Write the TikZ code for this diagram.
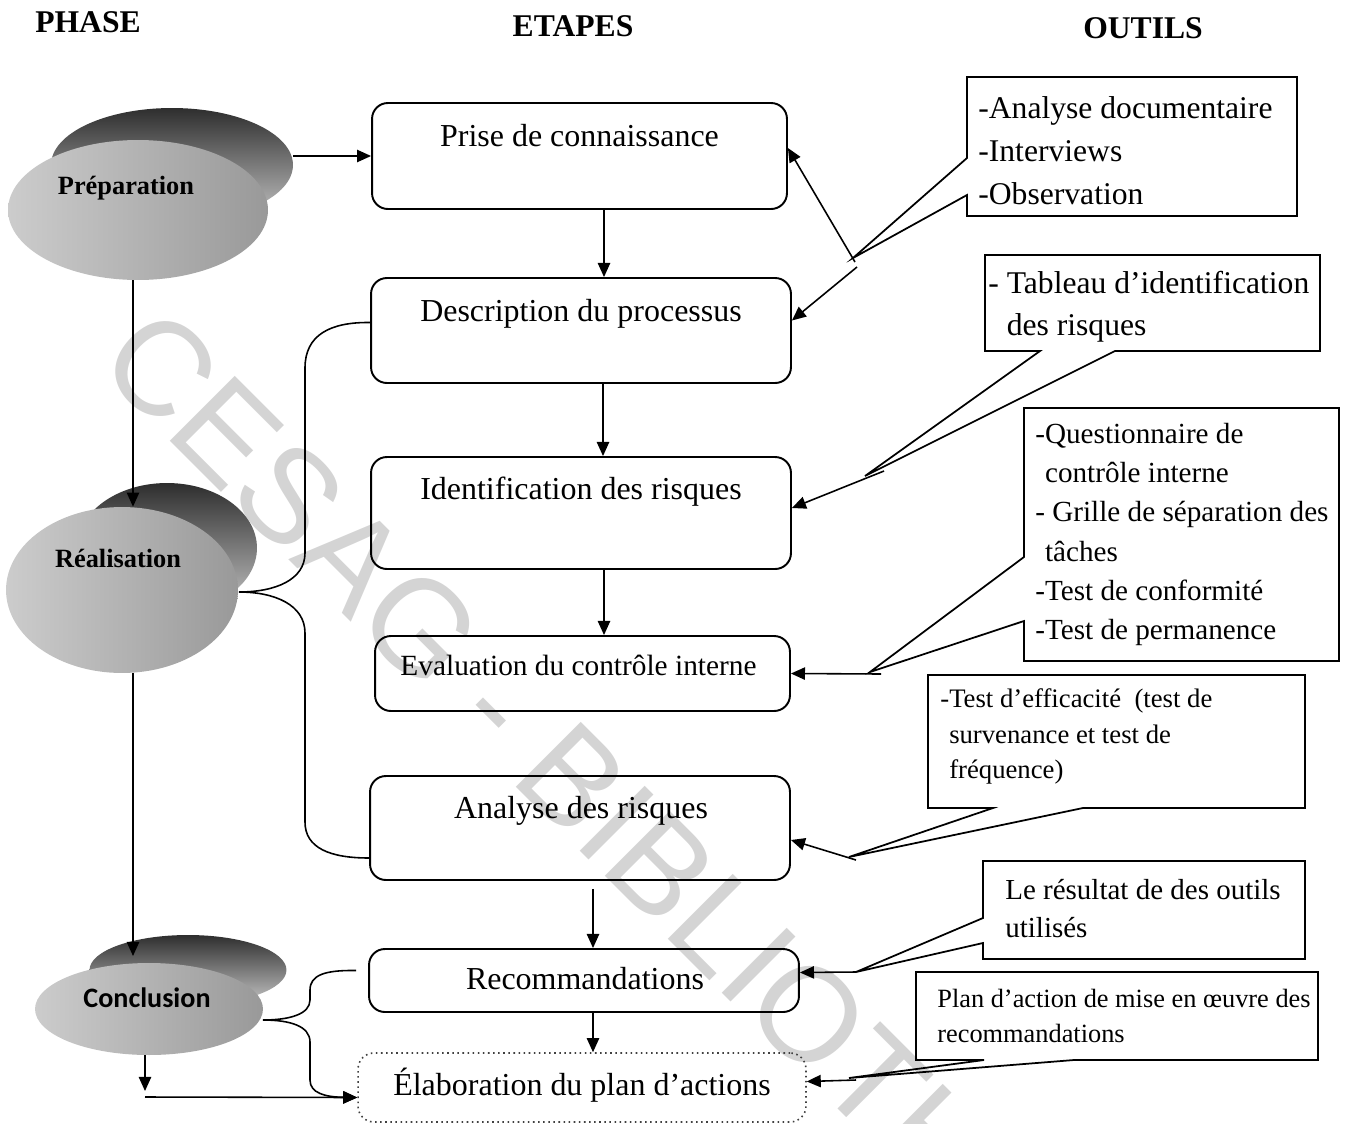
\documentclass[tikz,border=0pt]{standalone}
\usepackage{fontspec}
\setmainfont{Liberation Serif}
\newfontfamily\calib{Carlito}
\newfontfamily\wmfont{Liberation Sans}
\usetikzlibrary{arrows.meta,calc,shapes.geometric}
\begin{document}
\begin{tikzpicture}[x=0.02cm,y=-0.02cm,
  arr/.style={-{Triangle[length=8pt,width=7pt]}, line width=0.9pt},
  stepbox/.style={draw, line width=1.1pt, rounded corners=9pt, inner sep=0pt},
  steptxt/.style={inner sep=0pt, font=\fontsize{18.2}{22}\selectfont, text height=12.7pt, text depth=3.6pt},
  toolbox/.style={draw, line width=1pt, line join=miter},
  tooltxt/.style={inner sep=0pt, anchor=west, align=left},
  hdr/.style={inner sep=0pt, font=\bfseries\fontsize{18}{22}\selectfont},
  phtxt/.style={inner sep=0pt, font=\bfseries\fontsize{15}{18}\selectfont},
  darkell/.style={ellipse, inner sep=0pt, draw=none, top color=black!82, bottom color=black!22},
  lightell/.style={ellipse, inner sep=0pt, draw=none, left color=black!20, right color=black!40},
  brace/.style={line width=0.9pt},
  wm/.style={inner sep=0pt, anchor=west, rotate=-45, text=black!17, font=\wmfont\fontsize{76}{84}\selectfont}
]
\useasboundingbox (0,0) rectangle (1346,1123);
\clip (0,0) rectangle (1346,1123);

% watermark
\node[wm] (wmark) at (118,341) {CESAG - BIBLIOTHEQUE};

% headers
\node[hdr] (hphase) at (88,22) {PHASE};
\node[hdr] (hetapes) at (573,26) {ETAPES};
\node[hdr] (houtils) at (1143,28) {OUTILS};

% phase ellipses
\node[darkell, minimum width=4.84cm, minimum height=2.28cm] (prepd) at (172,165) {};
\node[lightell, minimum width=5.2cm, minimum height=2.8cm] (prep) at (138,210) {};
\node[phtxt] (preptxt) at (126,188) {Préparation};

\node[darkell, minimum width=3.6cm, minimum height=2.6cm] (reald) at (167,548) {};
\node[lightell, minimum width=4.64cm, minimum height=3.32cm] (real) at (122,590) {};
\node[phtxt] (realtxt) at (118,558) {Réalisation};

\node[darkell, minimum width=3.94cm, minimum height=1.4cm] (concd) at (188,970) {};
\node[lightell, minimum width=4.56cm, minimum height=1.84cm] (concl) at (149,1009) {};
\node[inner sep=0pt, font=\calib\bfseries\fontsize{16}{19}\selectfont] (conctxt) at (147,998) {Conclusion};

% step boxes
\node[stepbox, minimum width=8.30cm, minimum height=2.12cm] (prise) at (579.5,156) {};
\node[stepbox, minimum width=8.40cm, minimum height=2.10cm] (desc) at (581,330.5) {};
\node[stepbox, minimum width=8.40cm, minimum height=2.24cm] (ident) at (581,513) {};
\node[stepbox, minimum width=8.30cm, minimum height=1.50cm] (eval) at (582.5,673.5) {};
\node[stepbox, minimum width=8.40cm, minimum height=2.08cm] (analyse) at (580,828) {};
\node[stepbox, minimum width=8.60cm, minimum height=1.26cm] (recom) at (584,980.5) {};
\node[draw=black!75, dotted, line width=0.9pt, rounded corners=9pt, inner sep=0pt, minimum width=8.96cm, minimum height=1.38cm] (elab) at (582,1087.5) {};

\node[steptxt] (prisetxt) at (579.5,139) {Prise de connaissance};
\node[steptxt] (desctxt) at (581,313) {Description du processus};
\node[steptxt] (identtxt) at (581,491) {Identification des risques};
\node[steptxt, font=\fontsize{16.7}{20}\selectfont] (evaltxt) at (578.5,667) {Evaluation du contrôle interne};
\node[steptxt] (analysetxt) at (581,810) {Analyse des risques};
\node[steptxt] (recomtxt) at (585,981) {Recommandations};
\node[steptxt] (elabtxt) at (582,1087) {Élaboration du plan d’actions};

% vertical step arrows
\coordinate (ax1) at (604,0);
\coordinate (ax2) at (603,0);
\coordinate (ax4) at (593,0);
\draw[arr] (prise.south -| ax1) -- (desc.north -| ax1);
\draw[arr] (desc.south -| ax2) -- (ident.north -| ax2);
\draw[arr] (ident.south -| ax1) -- (eval.north -| ax1);
\draw[arr] ($(analyse.south -| ax4)+(0,8)$) -- (recom.north -| ax4);
\draw[arr] (recom.south -| ax4) -- (elab.north -| ax4);

% phase connectors
\coordinate (px) at (133,0);
\draw[arr] (prise.west -| prepd.east) -- (prise.west);
\draw[arr] (prep.south -| px) -- (real.north -| px);
\coordinate (cin) at (133,956);
\draw[arr] (real.south -| px) -- (cin);
\coordinate (cdown) at (145,1091);
\coordinate (cbot) at (145,1097);
\draw[arr] (concl.south -| cdown) -- (cdown);
\draw[arr] (cbot) -- ($(elab.west)+(0,10)$);

% braces
\coordinate (tipR) at (239,592);
\draw[brace] ($(desc.west)+(0,-8)$) .. controls (330,322) and (305,335) .. (305,368) -- (305,553) .. controls (305,580) and (275,592) .. (tipR);
\draw[brace] (tipR) .. controls (275,592) and (305,605) .. (305,633) -- (305,822) .. controls (305,848) and (330,858) .. ($(analyse.west)+(0,30)$);
\coordinate (tipC) at (263,1020);
\draw[brace] ($(recom.west)+(-12,-10)$) .. controls (325,970) and (310,975) .. (310,990) -- (310,1000) .. controls (310,1014) and (290,1020) .. (tipC);
\draw[brace, arr] (tipC) .. controls (290,1020) and (310,1026) .. (310,1042) -- (310,1080) .. controls (310,1093) and (325,1097) .. ($(elab.west)+(0,10)$);

% tool callouts
\coordinate (pA) at (853,258);
\draw[toolbox] (967,77) -- (1297,77) -- (1297,216) -- (967,216) -- (967,195) -- (pA) -- (967,158) -- cycle;
\coordinate (pA1) at (855,262);
\coordinate (pA2) at (857,267);
\draw[arr] (pA1) -- ($(prise.east)+(0,-8)$);
\draw[arr] (pA2) -- ($(desc.east)+(0,-10)$);
\node[tooltxt, font=\fontsize{18}{24.7}\selectfont] (tA) at (978,150.7) {-Analyse documentaire\\-Interviews\\-Observation};

\coordinate (pB) at (865,476);
\draw[toolbox] (985,255) -- (1320,255) -- (1320,351) -- (1115,351) -- (pB) -- (1040,351) -- (985,351) -- cycle;
\coordinate (pB1) at (884,471);
\draw[arr] (pB1) -- ($(ident.east)+(0,-5)$);
\node[tooltxt, font=\fontsize{18}{23.8}\selectfont] (tB) at (988,307) {- Tableau d’identification\\\phantom{- }des risques};

\coordinate (pC) at (870,672);
\draw[toolbox] (1024,408) -- (1339,408) -- (1339,661) -- (1024,661) -- (1024,621) -- (pC) -- (1024,557) -- cycle;
\coordinate (pC1) at (881,674);
\draw[arr] (pC1) -- (eval.east);
\node[tooltxt, font=\fontsize{16.6}{22.3}\selectfont] (tC) at (1035,534.5) {-Questionnaire de\\\phantom{-}contrôle interne\\- Grille de séparation des\\\phantom{-}tâches\\-Test de conformité\\-Test de permanence};

\coordinate (pD) at (849,857);
\draw[toolbox] (928,675) -- (1305,675) -- (1305,808) -- (1083,808) -- (pD) -- (993,808) -- (928,808) -- cycle;
\coordinate (pD1) at (856,860);
\draw[arr] (pD1) -- ($(analyse.east)+(0,12)$);
\node[tooltxt, font=\fontsize{15.2}{20.1}\selectfont] (tD) at (940,736.5) {-Test d’efficacité~~(test de\\\phantom{-}survenance et test de\\\phantom{-}fréquence)};

\coordinate (pE) at (856,972);
\draw[toolbox] (983,861) -- (1305,861) -- (1305,959) -- (983,959) -- (983,943) -- (pE) -- (983,918) -- cycle;
\draw[arr] (pE) -- ($(recom.east)+(0,-8)$);
\node[tooltxt, font=\fontsize{16.5}{22.1}\selectfont] (tE) at (1005,908.5) {Le résultat de des outils\\utilisés};

\coordinate (pF) at (849,1078);
\draw[toolbox] (916,972) -- (1318,972) -- (1318,1060) -- (1074,1060) -- (pF) -- (984,1060) -- (916,1060) -- cycle;
\coordinate (pF1) at (856,1080);
\draw[arr] (pF1) -- ($(elab.east)+(0,-6)$);
\node[tooltxt, font=\fontsize{15}{20.4}\selectfont] (tF) at (937,1016) {Plan d’action de mise en œuvre des\\recommandations};
\end{tikzpicture}
\end{document}
